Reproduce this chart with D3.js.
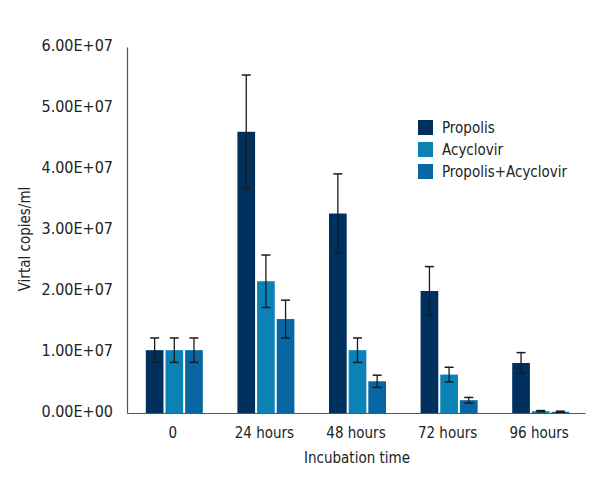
<!DOCTYPE html>
<html><head><meta charset="utf-8">
<script src="https://cdn.jsdelivr.net/npm/d3@7"></script>
<style>
body{margin:0;background:#fff;}
text{font-family:"Liberation Sans Narrow","DejaVu Sans Condensed","Open Sans",sans-serif;fill:#222;}
</style></head><body>
<svg id="chart" width="600" height="500"></svg>
<script>
const categories = ["0", "24 hours", "48 hours", "72 hours", "96 hours"];
const seriesNames = ["Propolis", "Acyclovir", "Propolis+Acyclovir"];
const propolis = [1.03e7, 4.61e7, 3.27e7, 2.0e7, 8.2e6];
const propolisErr = [2.0e6, 9.3e6, 6.5e6, 4.0e6, 1.7e6];
const acyclovir = [1.03e7, 2.16e7, 1.03e7, 6.3e6, 3.0e5];
const acyclovirErr = [2.0e6, 4.3e6, 2.0e6, 1.2e6, 1.0e5];
const combo = [1.03e7, 1.54e7, 5.2e6, 2.1e6, 2.0e5];
const comboErr = [2.0e6, 3.1e6, 1.0e6, 4.5e5, 1.0e5];
const yTicks = [0, 1e7, 2e7, 3e7, 4e7, 5e7, 6e7];
const yTickLabels = ["0.00E+00", "1.00E+07", "2.00E+07", "3.00E+07", "4.00E+07", "5.00E+07", "6.00E+07"];
const colors = ["#00305e", "#0b82b6", "#0866a2"];

const svg = d3.select("#chart");
const x0 = d3.scaleBand().domain(categories).range([127, 585]);
const x1 = d3.scaleBand().domain(seriesNames).range([0, 57]).paddingInner(0.1);
const y = d3.scaleLinear().domain([0, 6e7]).range([413, 47]);

const values = [propolis, acyclovir, combo];
const errs = [propolisErr, acyclovirErr, comboErr];

const groups = svg.selectAll("g.grp").data(categories).enter().append("g")
  .attr("transform", d => `translate(${x0(d) + x0.bandwidth()/2 - 27},0)`);

seriesNames.forEach((s, si) => {
  groups.append("rect")
    .attr("x", x1(s))
    .attr("width", x1.bandwidth())
    .attr("y", (d, i) => y(values[si][i]))
    .attr("height", (d, i) => y(0) - y(values[si][i]))
    .attr("fill", colors[si]);
  groups.each(function(d, i) {
    const g = d3.select(this);
    const cx = x1(s) + x1.bandwidth()/2;
    const v = values[si][i], e = errs[si][i];
    const yt = y(v + e), yb = y(Math.max(0, v - e));
    g.append("line").attr("x1", cx).attr("x2", cx).attr("y1", yt).attr("y2", yb)
      .attr("stroke", "#1a1a1a").attr("stroke-width", 1.3);
    [yt, yb].forEach(yy => g.append("line").attr("x1", cx - 4.5).attr("x2", cx + 4.5)
      .attr("y1", yy).attr("y2", yy).attr("stroke", "#1a1a1a").attr("stroke-width", 1.5));
  });
});

// axes
const yAxis = d3.axisLeft(y).tickValues(yTicks).tickSize(0).tickPadding(14)
  .tickFormat((d, i) => yTickLabels[i]);
const yg = svg.append("g").attr("transform", "translate(127,0)").call(yAxis);
yg.select(".domain").attr("stroke", "#555").attr("stroke-width", 1.2);
yg.selectAll("text").attr("font-size", 16).attr("dy", "0.2em")
  .style("font-family", '"Liberation Sans Narrow","DejaVu Sans Condensed",sans-serif').attr("fill", "#222");

const xAxis = d3.axisBottom(x0).tickSize(0).tickPadding(14);
const xg = svg.append("g").attr("transform", "translate(0,413)").call(xAxis);
xg.select(".domain").attr("stroke", "#555").attr("stroke-width", 1.2);
xg.selectAll("text").attr("font-size", 15)
  .style("font-family", '"Liberation Sans Narrow","DejaVu Sans Condensed",sans-serif').attr("fill", "#222");

svg.append("text").attr("x", 357).attr("y", 463).attr("text-anchor", "middle")
  .attr("font-size", 15).text("Incubation time");
svg.append("text").attr("transform", "translate(30,239) rotate(-90)").attr("text-anchor", "middle")
  .attr("font-size", 15).text("Virtal copies/ml");

// legend
const leg = svg.append("g");
seriesNames.forEach((s, i) => {
  leg.append("rect").attr("x", 418).attr("y", 120 + i * 22).attr("width", 15).attr("height", 15).attr("fill", colors[i]);
  leg.append("text").attr("x", 442).attr("y", 133 + i * 22).attr("font-size", 15).text(s);
});
</script>
</body></html>
